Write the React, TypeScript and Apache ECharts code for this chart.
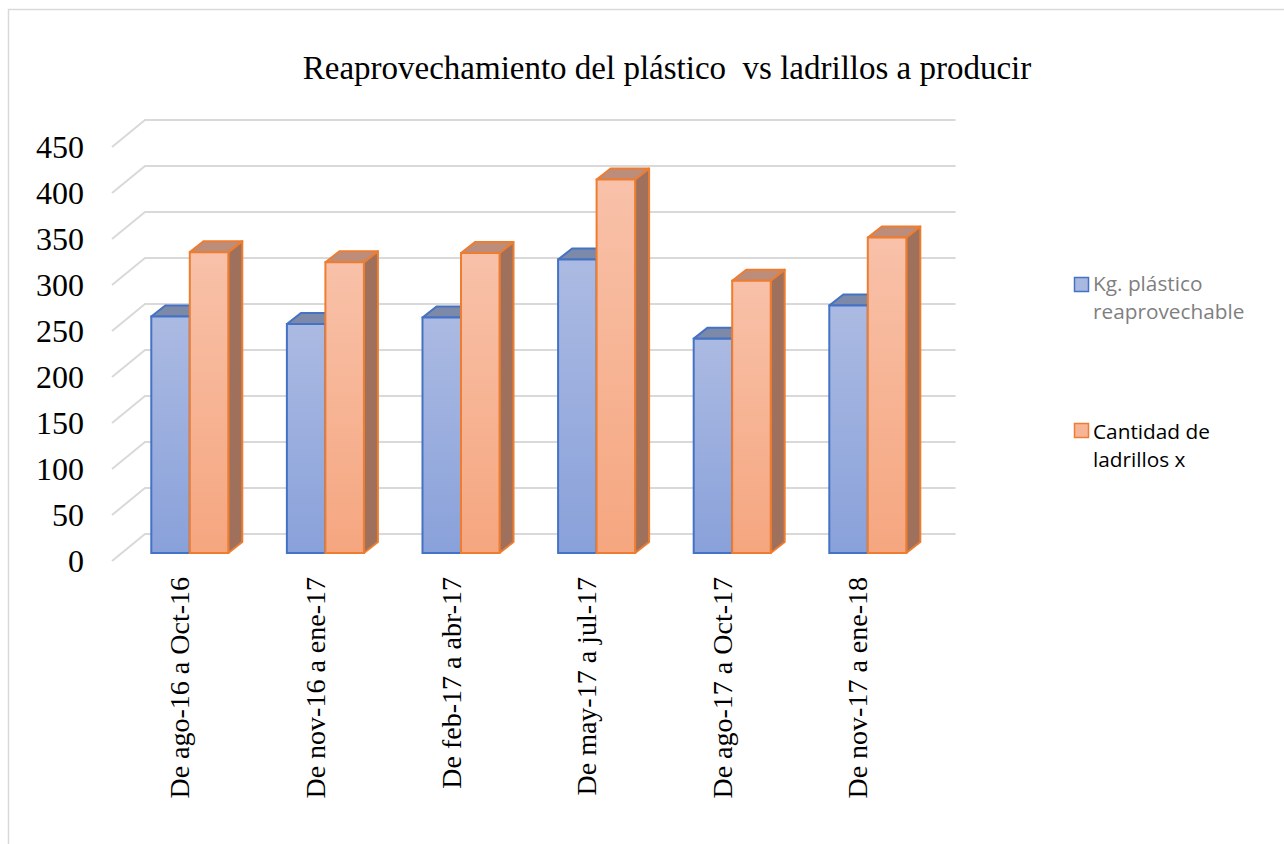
import React, { useEffect, useRef } from "react";
import * as echarts from "echarts";

// Periods on the category axis
const periods = [
  "De ago-16 a Oct-16",
  "De nov-16 a ene-17",
  "De feb-17 a abr-17",
  "De may-17 a jul-17",
  "De ago-17 a Oct-17",
  "De nov-17 a ene-18",
];

// Series values
const plasticKg = [257, 249, 256, 319, 233, 269];
const bricks = [327, 316, 326, 406, 296, 343];

// Value-axis ticks
const valueTicks = [0, 50, 100, 150, 200, 250, 300, 350, 400, 450];

const seriesNames = ["Kg. plástico reaprovechable", "Cantidad de ladrillos x"];
const legendLines = ["Kg. plástico\nreaprovechable", "Cantidad de\nladrillos x"];
const titleText = "Reaprovechamiento del plástico  vs ladrillos a producir";

// Pseudo-3D geometry (pixels)
const FLOOR_DX = 33;
const FLOOR_DY = -27;
const BAR_OFF_X = 10;
const BAR_OFF_Y = -8;
const BAR_DX = 14;
const BAR_DY = -11;
const BAR_FRAC = 0.284;

type BarColors = {
  top: string;
  side: string;
  edge: string;
  light: string;
  dark: string;
};

const blue: BarColors = {
  top: "#7c89a8",
  side: "#67779e",
  edge: "#4472c4",
  light: "#abbae2",
  dark: "#89a1da",
};

const orange: BarColors = {
  top: "#bc8d7b",
  side: "#9f715c",
  edge: "#ed7d31",
  light: "#f8c1a9",
  dark: "#f5a67f",
};

function makeBarRenderer(side: number, c: BarColors) {
  return (params: any, api: any) => {
    const i = api.value(0);
    const v = api.value(1);
    const base = api.coord([i, 0]);
    const top = api.coord([i, v]);
    const bw = api.size([1, 0])[0] * BAR_FRAC;
    const cx = base[0] + BAR_OFF_X;
    const x0 = side < 0 ? cx - bw : cx;
    const x1 = x0 + bw;
    const yb = base[1] + BAR_OFF_Y;
    const yt = top[1] + BAR_OFF_Y;
    return {
      type: "group",
      children: [
        {
          type: "polygon",
          shape: {
            points: [
              [x1, yt],
              [x1 + BAR_DX, yt + BAR_DY],
              [x1 + BAR_DX, yb + BAR_DY],
              [x1, yb],
            ],
          },
          style: { fill: c.side, stroke: c.edge, lineWidth: 2, lineJoin: "round" },
        },
        {
          type: "polygon",
          shape: {
            points: [
              [x0, yt],
              [x0 + BAR_DX, yt + BAR_DY],
              [x1 + BAR_DX, yt + BAR_DY],
              [x1, yt],
            ],
          },
          style: { fill: c.top, stroke: c.edge, lineWidth: 2, lineJoin: "round" },
        },
        {
          type: "rect",
          shape: { x: x0, y: yt, width: bw, height: yb - yt },
          style: {
            fill: new echarts.graphic.LinearGradient(0, 0, 0, 1, [
              { offset: 0, color: c.light },
              { offset: 1, color: c.dark },
            ]),
            stroke: c.edge,
            lineWidth: 2,
          },
        },
      ],
    };
  };
}

function gridRenderer(params: any, api: any) {
  const cs = params.coordSys;
  const y = api.coord([0, api.value(1)])[1];
  return {
    type: "polyline",
    shape: {
      points: [
        [cs.x, y],
        [cs.x + FLOOR_DX, y + FLOOR_DY],
        [cs.x + cs.width + FLOOR_DX - 3, y + FLOOR_DY],
      ],
    },
    style: { stroke: "#d9d9d9", lineWidth: 2, fill: null },
  };
}

export default function App() {
  const ref = useRef<HTMLDivElement>(null);

  useEffect(() => {
    if (!ref.current) return;
    const chart = echarts.init(ref.current, undefined, { renderer: "svg" });
    const serif = "'Liberation Serif', 'Times New Roman', serif";
    const sans = "'Open Sans', 'Noto Sans', sans-serif";

    chart.setOption({
      animation: false,
      backgroundColor: "#ffffff",
      title: {
        text: titleText,
        left: 662,
        top: 46,
        textAlign: "center",
        textStyle: {
          fontFamily: serif,
          fontSize: 33,
          fontWeight: "normal",
          color: "#000000",
        },
      },
      grid: {
        left: 112,
        top: 147,
        width: 813.6,
        height: 414,
        containLabel: false,
      },
      xAxis: {
        type: "category",
        data: periods,
        axisLine: { show: false },
        axisTick: { show: false },
        splitLine: { show: false },
        axisLabel: {
          interval: 0,
          rotate: 90,
          margin: 16,
          fontFamily: serif,
          fontSize: 28,
          color: "#000000",
        },
      },
      yAxis: {
        type: "value",
        min: 0,
        max: 450,
        interval: 50,
        axisLine: { show: false },
        axisTick: { show: false },
        splitLine: { show: false },
        axisLabel: {
          margin: 28,
          fontFamily: serif,
          fontSize: 32,
          color: "#000000",
        },
      },
      series: [
        {
          type: "custom",
          name: "grid",
          silent: true,
          z: 1,
          data: valueTicks.map((v) => [0, v]),
          encode: { x: 0, y: 1 },
          renderItem: gridRenderer,
        },
        {
          type: "custom",
          name: seriesNames[0],
          z: 2,
          data: plasticKg.map((v, i) => [i, v]),
          encode: { x: 0, y: 1 },
          renderItem: makeBarRenderer(-1, blue),
        },
        {
          type: "custom",
          name: seriesNames[1],
          z: 3,
          data: bricks.map((v, i) => [i, v]),
          encode: { x: 0, y: 1 },
          renderItem: makeBarRenderer(1, orange),
        },
      ],
      graphic: [
        {
          type: "rect",
          silent: true,
          shape: { x: 8.5, y: 9.5, width: 1320, height: 900 },
          style: { fill: "none", stroke: "#d9d9d9", lineWidth: 1.5 },
        },
        {
          type: "rect",
          shape: { x: 1074.5, y: 277.5, width: 14, height: 14 },
          style: { fill: "#a9b8e0", stroke: blue.edge, lineWidth: 1.5 },
        },
        {
          type: "text",
          x: 1093,
          y: 269,
          style: {
            text: legendLines[0],
            fontFamily: sans,
            fontSize: 20.8,
            lineHeight: 28,
            fill: "#7f7f7f",
            textAlign: "left",
            textVerticalAlign: "top",
          },
        },
        {
          type: "rect",
          shape: { x: 1074.5, y: 423.5, width: 14, height: 14 },
          style: { fill: "#f6b596", stroke: orange.edge, lineWidth: 1.5 },
        },
        {
          type: "text",
          x: 1093,
          y: 417,
          style: {
            text: legendLines[1],
            fontFamily: sans,
            fontSize: 20.8,
            lineHeight: 28,
            fill: "#000000",
            textAlign: "left",
            textVerticalAlign: "top",
          },
        },
      ],
    });

    return () => chart.dispose();
  }, []);

  return (
    <div
      ref={ref}
      style={{ position: "fixed", left: 0, top: 0, width: 1284, height: 844 }}
    />
  );
}
